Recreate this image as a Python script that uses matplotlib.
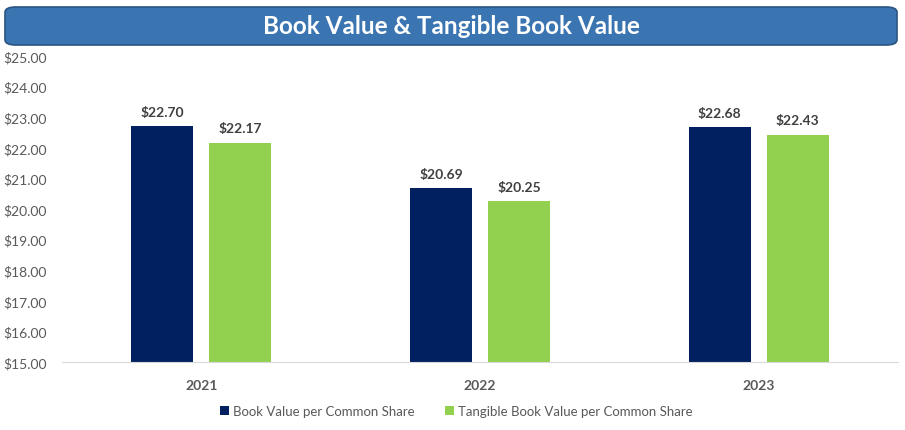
import matplotlib
matplotlib.use("Agg")
import matplotlib.pyplot as plt
import numpy as np
from matplotlib.patches import FancyBboxPatch

categories = ["2021", "2022", "2023"]
book_value = [22.70, 20.69, 22.68]
tangible_book_value = [22.17, 20.25, 22.43]
series_names = ["Book Value per Common Share", "Tangible Book Value per Common Share"]
yticks = [15, 16, 17, 18, 19, 20, 21, 22, 23, 24, 25]

W, H = 905, 431
fig = plt.figure(figsize=(W / 100, H / 100), dpi=100)
plt.rcParams['font.family'] = ['Lato', 'DejaVu Sans']

# title box
box = FancyBboxPatch((5 / W, (H - 46) / H), 892 / W, 38 / H,
                     boxstyle="round,pad=0,rounding_size=0.012",
                     transform=fig.transFigure, facecolor="#3A75B1",
                     edgecolor="#2A5482", linewidth=1.2)
fig.patches.append(box)
fig.text(451 / W, (H - 27) / H, "Book Value & Tangible Book Value", ha="center", va="center",
         color="white", fontsize=17.5, fontweight="bold")

ax = fig.add_axes([62 / W, (H - 363) / H, 836 / W, 306 / H])
x = np.arange(len(categories))
bw = 0.223
off = 0.14
navy, green = "#002060", "#92D050"
b1 = ax.bar(x - off, book_value, bw, color=navy, label=series_names[0])
b2 = ax.bar(x + off, tangible_book_value, bw, color=green, label=series_names[1])
ax.set_ylim(15, 25)
ax.set_xlim(-0.5, 2.5)
ax.set_yticks(yticks)
ax.set_yticklabels([f"${v:.2f}" for v in yticks])
ax.set_xticks(x)
ax.set_xticklabels(categories, fontweight="bold")
for s in ["top", "right", "left"]:
    ax.spines[s].set_visible(False)
ax.spines["bottom"].set_color("#D9D9D9")
ax.tick_params(axis="both", length=0, colors="#595959", labelsize=10)
ax.tick_params(axis="y", pad=42)
for lbl in ax.get_yticklabels():
    lbl.set_ha("left")
ax.tick_params(axis="x", pad=12)

for bars, vals in [(b1, book_value), (b2, tangible_book_value)]:
    for r, v in zip(bars, vals):
        ax.annotate(f"${v:.2f}", (r.get_x() + r.get_width() / 2, v), xytext=(0, 6),
                    textcoords="offset points", ha="center", va="bottom",
                    fontsize=10, fontweight="bold", color="#404040")

fig.legend(handles=[b1, b2], labels=series_names, loc="center", ncol=2,
           bbox_to_anchor=(456 / W, (H - 412) / H), frameon=False,
           fontsize=9.5, handlelength=0.7, handleheight=0.7, handletextpad=0.3,
           columnspacing=2.3, labelcolor="#595959")

fig.savefig("out.png", dpi=100)
